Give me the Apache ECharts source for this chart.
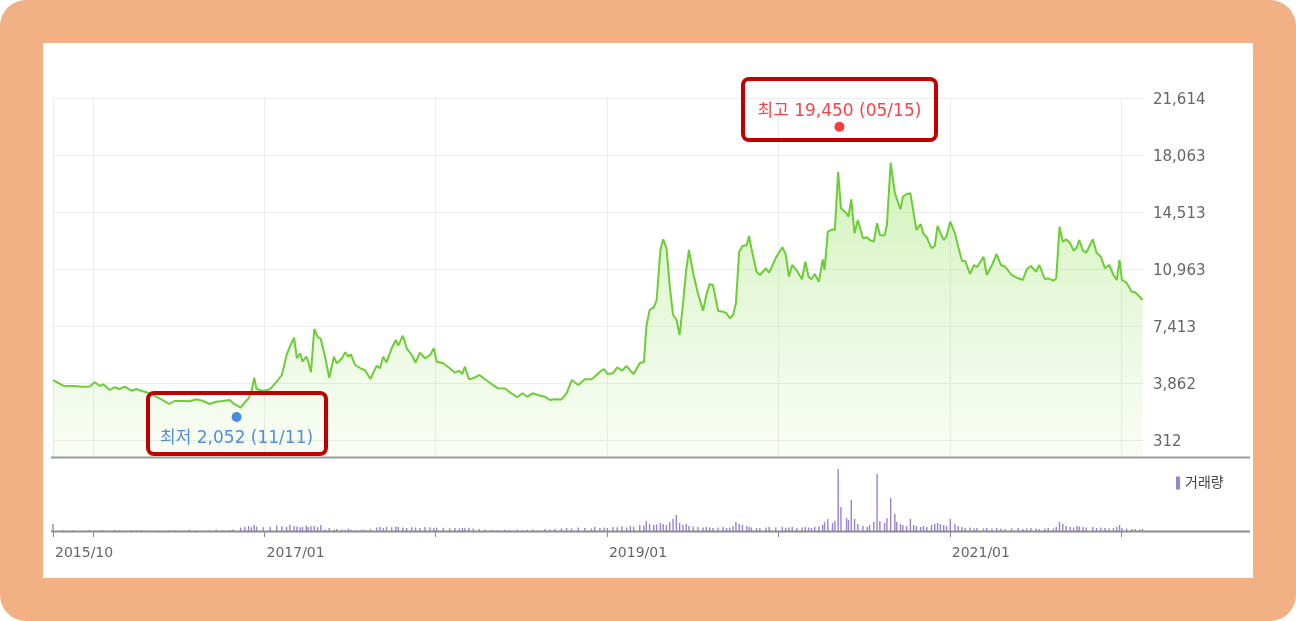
<!DOCTYPE html>
<html><head><meta charset="utf-8">
<script src="https://cdn.jsdelivr.net/npm/echarts@6/dist/echarts.min.js"></script>
<style>
html,body{margin:0;padding:0;background:#fff;overflow:hidden;}
#frame{position:absolute;left:0;top:0;width:1296px;height:621px;background:#F2B184;border-radius:26px;}
#panel{position:absolute;left:43px;top:43px;width:1210px;height:535px;background:#fff;}
#chart{position:absolute;left:0;top:0;width:1296px;height:621px;}
</style></head><body>
<div id="frame"></div><div id="panel"></div><div id="chart"></div>
<script>
const priceDates = [
'2015-10-08','2015-10-30','2015-11-20','2015-12-11','2015-12-25','2016-01-05','2016-01-16','2016-01-23','2016-02-06','2016-02-16',
'2016-02-27','2016-03-09','2016-03-23','2016-04-03','2016-04-13','2016-05-01','2016-05-22','2016-06-12','2016-06-23','2016-07-11',
'2016-07-25','2016-08-09','2016-08-23','2016-09-06','2016-09-20','2016-10-04','2016-10-19','2016-10-26','2016-11-11','2016-11-20',
'2016-11-28','2016-12-04','2016-12-10','2016-12-15','2016-12-29','2017-01-13','2017-01-27','2017-02-07','2017-02-17','2017-02-24',
'2017-03-05','2017-03-11','2017-03-18','2017-03-23','2017-03-31','2017-04-04','2017-04-10','2017-04-17','2017-04-24','2017-05-01',
'2017-05-10','2017-05-19','2017-05-29','2017-06-04','2017-06-15','2017-06-22','2017-06-29','2017-07-04','2017-07-13','2017-07-27',
'2017-08-03','2017-08-15','2017-08-28','2017-09-04','2017-09-11','2017-09-18','2017-09-29','2017-10-08','2017-10-13','2017-10-23',
'2017-10-31','2017-11-11','2017-11-19','2017-11-28','2017-12-09','2017-12-20','2017-12-28','2018-01-03','2018-01-17','2018-01-31',
'2018-02-11','2018-02-20','2018-02-27','2018-03-04','2018-03-13','2018-03-22','2018-04-04','2018-04-16','2018-04-30','2018-05-14',
'2018-05-29','2018-06-08','2018-06-24','2018-07-05','2018-07-15','2018-07-27','2018-08-08','2018-08-22','2018-09-01','2018-09-12',
'2018-09-26','2018-10-07','2018-10-18','2018-11-01','2018-11-15','2018-11-29','2018-12-06','2018-12-17','2018-12-26','2019-01-02',
'2019-01-14','2019-01-23','2019-02-02','2019-02-12','2019-02-20','2019-02-27','2019-03-12','2019-03-21','2019-03-26','2019-04-02',
'2019-04-11','2019-04-17','2019-04-25','2019-05-01','2019-05-08','2019-05-15','2019-05-22','2019-05-29','2019-06-05','2019-06-12',
'2019-06-19','2019-06-25','2019-07-04','2019-07-14','2019-07-25','2019-08-01','2019-08-08','2019-08-15','2019-08-26','2019-09-06',
'2019-09-13','2019-09-20','2019-09-27','2019-10-03','2019-10-10','2019-10-17','2019-10-26','2019-10-31','2019-11-05','2019-11-16',
'2019-11-23','2019-12-06','2019-12-13','2019-12-27','2020-01-10','2020-01-17','2020-01-24','2020-01-31','2020-02-10','2020-02-21',
'2020-02-28','2020-03-06','2020-03-12','2020-03-19','2020-03-28','2020-04-05','2020-04-09','2020-04-16','2020-04-26','2020-05-01',
'2020-05-08','2020-05-14','2020-05-26','2020-05-30','2020-06-05','2020-06-12','2020-06-19','2020-06-30','2020-07-09','2020-07-14',
'2020-07-23','2020-07-30','2020-08-05','2020-08-15','2020-08-20','2020-08-28','2020-09-06','2020-09-10','2020-09-18','2020-09-23',
'2020-10-01','2020-10-09','2020-10-16','2020-10-22','2020-10-31','2020-11-06','2020-11-13','2020-11-23','2020-11-30','2020-12-06',
'2020-12-12','2020-12-19','2020-12-25','2021-01-02','2021-01-12','2021-01-19','2021-01-27','2021-02-03','2021-02-13','2021-02-22',
'2021-02-28','2021-03-14','2021-03-21','2021-04-01','2021-04-11','2021-04-20','2021-04-29','2021-05-13','2021-05-27','2021-06-06',
'2021-06-14','2021-06-23','2021-07-04','2021-07-11','2021-07-23','2021-07-30','2021-08-10','2021-08-16','2021-08-23','2021-08-30',
'2021-09-06','2021-09-15','2021-09-22','2021-09-29','2021-10-04','2021-10-12','2021-10-19','2021-11-02','2021-11-10','2021-11-19',
'2021-11-28','2021-12-07','2021-12-16','2021-12-23','2021-12-29','2022-01-03','2022-01-13','2022-01-24','2022-01-31','2022-02-10',
'2022-02-16'];

const priceValues = [
4049,3694,3676,3632,3640,3906,3676,3781,3426,3595,
3489,3632,3383,3489,3383,3221,2909,2554,2741,2741,
2730,2847,2741,2554,2698,2741,2803,2598,2330,2660,
2909,3320,4192,3489,3364,3489,3943,4361,5606,6123,
6684,5401,5712,5189,5500,5233,4529,7226,6746,6603,
5500,4192,5500,5089,5401,5775,5500,5650,4984,4734,
4672,4112,4940,4778,5500,5152,6024,6541,6186,6809,
6024,5606,5127,5750,5401,5606,6024,5189,5089,4778,
4504,4628,4423,4878,4093,4155,4361,4093,3800,3532,
3520,3283,2972,3221,3009,3221,3096,3009,2803,2847,
2840,3221,4049,3738,4093,4100,4255,4566,4734,4423,
4467,4840,4628,4921,4628,4423,5089,5189,7369,8409,
8578,9032,12147,12813,12252,9861,8098,7830,6852,8721,
10901,12147,10695,9450,8366,9344,10029,9966,8366,8303,
8204,7892,8098,8827,12041,12396,12458,13019,12252,10795,
10589,11007,10733,11648,12315,11897,10484,11212,10857,10322,
11418,10484,10322,10652,10172,11567,10901,13287,13436,13392,
17024,14744,14432,14221,15305,13187,14015,12875,12938,12769,
12664,13810,13081,13050,13704,17584,15678,15716,14682,15466,
15635,15690,14432,13392,13766,13143,12938,12252,12396,13641,
13224,12769,13019,13909,13187,12352,11480,11460,10652,11212,
11069,11729,10589,11212,11897,11212,11106,10589,10384,10278,
10944,11150,10795,11212,10322,10384,10234,10384,13598,12664,
12813,12564,12103,12315,12769,12103,11978,12813,11978,11729,
11007,11212,10589,10278,11524,10278,10110,9549,9520,9238,
9032];

const volumeValues = [
700,60,80,50,120,60,40,80,50,100,
60,40,90,50,70,60,40,80,50,60,
120,70,50,60,140,80,90,150,350,420,
500,380,600,450,380,420,550,480,400,620,
500,450,380,420,550,400,480,500,380,600,
150,300,120,200,150,100,250,120,100,150,
120,200,350,400,300,420,380,450,400,350,
300,380,350,300,400,380,300,350,320,280,
300,250,300,280,320,260,200,150,120,100,
120,100,150,100,120,150,100,200,150,200,
250,300,250,350,300,250,400,300,350,300,
400,380,450,350,500,400,600,550,1000,700,
600,650,800,700,600,900,1200,1600,800,600,
700,500,450,400,350,400,350,300,350,400,
300,350,500,900,700,600,500,400,350,300,
300,350,400,350,400,300,350,400,300,350,
400,350,300,400,450,600,900,1200,800,1000,
6200,2400,1300,1100,3100,1200,700,500,400,600,
900,5700,1000,800,1300,3300,1700,900,700,600,
500,1200,600,500,400,500,400,600,700,800,
700,600,500,1200,700,500,400,300,350,250,
300,250,300,250,300,250,200,250,300,200,
250,300,250,200,250,300,250,400,900,700,
500,400,350,500,450,400,350,400,300,350,
300,250,300,400,600,300,250,200,200,150,
200];

const yTickValues = [312, 3862, 7413, 10963, 14513, 18063, 21614];
const yTickLabels = ['312', '3,862', '7,413', '10,963', '14,513', '18,063', '21,614'];
const yearTickDates = ['2015-10-08','2016-01-01','2017-01-01','2018-01-01','2019-01-01','2020-01-01','2021-01-01','2022-01-01'];
const xLabelDates = ['2015-10-08','2017-01-01','2019-01-01','2021-01-01'];
const xLabelTexts = ['2015/10','2017/01','2019/01','2021/01'];
const highPoint = ['2020-05-15', 19450];
const lowPoint = ['2016-11-11', 2052];
const highLabel = '최고 19,450 (05/15)';
const lowLabel = '최저 2,052 (11/11)';
const volumeName = '거래량';
const xStart = '2015-10-08';
const xEnd = '2022-02-17';

const ts = s => echarts.number.parseDate(s).getTime();
const yearTickTs = yearTickDates.map(ts);
const xLabelTs = xLabelDates.map(ts);
const priceData = priceDates.map((d, i) => [ts(d), priceValues[i]]);
const volumeData = priceDates.map((d, i) => [ts(d), volumeValues[i]]);
const nearestLabel = (v, keys, labels) => {
  let best = 0, bd = Infinity;
  keys.forEach((t, i) => { const dd = Math.abs(t - v); if (dd < bd) { bd = dd; best = i; } });
  return labels[best];
};

const FONT = '"DejaVu Sans", "Noto Sans CJK KR", sans-serif';
const chart = echarts.init(document.getElementById('chart'), null, {renderer: 'canvas'});

const option = {
  animation: false,
  backgroundColor: 'transparent',
  textStyle: {fontFamily: FONT},
  grid: [
    {left: 53, right: 153, top: 98, height: 359, containLabel: false},
    {left: 53, right: 153, top: 459, height: 72, containLabel: false}
  ],
  legend: {
    data: [volumeName], left: 1171, top: 471, icon: 'rect', itemWidth: 4, itemHeight: 13, itemGap: 4,
    textStyle: {color: '#444', fontSize: 14, fontFamily: FONT}, selectedMode: false
  },
  xAxis: [
    {
      type: 'value', gridIndex: 0, min: ts(xStart), max: ts(xEnd),
      axisLine: {show: false}, axisLabel: {show: false},
      axisTick: {show: false, customValues: yearTickTs},
      splitLine: {show: true, lineStyle: {color: '#ececec', width: 1}}
    },
    {
      type: 'value', gridIndex: 1, min: ts(xStart), max: ts(xEnd),
      axisLine: {show: false},
      axisTick: {show: true, customValues: yearTickTs, length: 6, lineStyle: {color: '#8a8a8a', width: 1}},
      axisLabel: {
        show: true, customValues: xLabelTs, align: 'left', margin: 15, padding: [0, 0, 0, 2],
        color: '#666', fontSize: 14, fontFamily: FONT,
        formatter: v => nearestLabel(v, xLabelTs, xLabelTexts)
      },
      splitLine: {show: false}
    }
  ],
  yAxis: [
    {
      type: 'value', gridIndex: 0, position: 'right', min: -747, max: 21614,
      axisLine: {show: false},
      axisTick: {show: false, customValues: yTickValues},
      axisLabel: {
        show: true, customValues: yTickValues, margin: 10,
        formatter: v => '{t|' + nearestLabel(v, yTickValues, yTickLabels) + '}',
        rich: {t: {color: '#666', fontSize: 15, fontFamily: FONT, padding: [5, 0, 0, 0]}}
      },
      splitLine: {show: true, lineStyle: {color: '#ececec', width: 1}}
    },
    {
      type: 'value', gridIndex: 1, min: 0, max: 7200,
      axisLine: {show: false}, axisTick: {show: false}, axisLabel: {show: false}, splitLine: {show: false}
    }
  ],
  series: [
    {
      type: 'line', name: '주가', xAxisIndex: 0, yAxisIndex: 0, data: priceData,
      showSymbol: false, symbol: 'none', smooth: false,
      lineStyle: {color: '#6ccd36', width: 2},
      areaStyle: {
        origin: 'start',
        color: new echarts.graphic.LinearGradient(0, 0, 0, 1, [
          {offset: 0, color: 'rgba(150, 225, 95, 0.62)'},
          {offset: 0.5, color: 'rgba(160, 228, 110, 0.35)'},
          {offset: 1, color: 'rgba(170, 230, 120, 0.10)'}
        ])
      },
      z: 2
    },
    {
      type: 'bar', name: volumeName, xAxisIndex: 1, yAxisIndex: 1, data: volumeData,
      barWidth: 1.4, itemStyle: {color: '#9a82d2'}, z: 2
    },
    {
      type: 'scatter', name: 'high', xAxisIndex: 0, yAxisIndex: 0, data: [[ts(highPoint[0]), highPoint[1]]],
      symbol: 'circle', symbolSize: 10, symbolOffset: [-2, -6],
      itemStyle: {color: '#f50d0d'},
      label: {show: true, position: 'top', distance: 2, formatter: highLabel, color: '#f0141c', fontSize: 17, fontFamily: FONT},
      z: 5
    },
    {
      type: 'scatter', name: 'low', xAxisIndex: 0, yAxisIndex: 0, data: [[ts(lowPoint[0]), lowPoint[1]]],
      symbol: 'circle', symbolSize: 10, symbolOffset: [-4, 5],
      itemStyle: {color: '#1c6fd8'},
      label: {show: true, position: 'bottom', distance: 8, formatter: lowLabel, color: '#2a73d9', fontSize: 17, fontFamily: FONT},
      z: 5
    }
  ],
  graphic: [
    {type: 'line', z: 50, shape: {x1: 51, y1: 457.5, x2: 1250, y2: 457.5}, style: {stroke: '#9c9c9c', lineWidth: 2}},
    {type: 'line', z: 50, shape: {x1: 51, y1: 531.5, x2: 1250, y2: 531.5}, style: {stroke: '#8c8c8c', lineWidth: 2}},
    {type: 'rect', z: 100, shape: {x: 743, y: 79, width: 193, height: 61, r: 6}, style: {fill: 'none', stroke: '#C00000', lineWidth: 4}},
    {type: 'rect', z: 100, shape: {x: 148, y: 393, width: 178, height: 61, r: 6}, style: {fill: 'none', stroke: '#C00000', lineWidth: 4}}
  ]
};
chart.setOption(option);
</script>
</body></html>
